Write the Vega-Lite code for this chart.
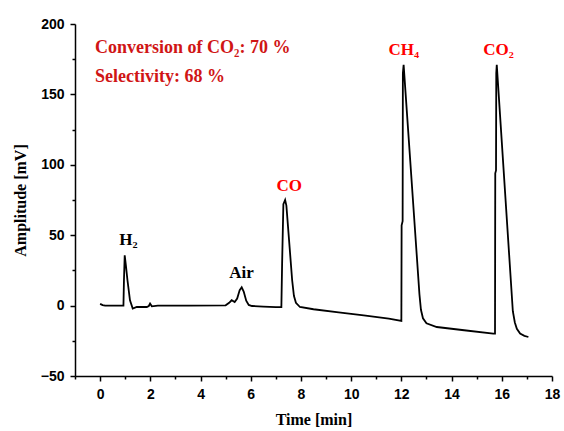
{
  "$schema": "https://vega.github.io/schema/vega-lite/v6.json",
  "width": 477,
  "height": 352,
  "autosize": "none",
  "padding": {"left": 75, "top": 24, "right": 12, "bottom": 55},
  "background": "white",
  "config": {
    "view": {"stroke": null},
    "axis": {
      "grid": false,
      "domainColor": "black",
      "domainWidth": 1.5,
      "tickColor": "black",
      "tickWidth": 1.5,
      "labelColor": "black",
      "labelFont": "Liberation Sans",
      "labelFontWeight": "bold",
      "labelFontSize": 14,
      "titleColor": "black",
      "titleFont": "Liberation Serif",
      "titleFontWeight": "bold",
      "titleFontSize": 16
    }
  },
  "datasets": {
    "trace": [
      {"t": 0.0, "v": 1.2}, {"t": 0.1, "v": 0.3}, {"t": 0.2, "v": 0}, {"t": 0.93, "v": 0},
      {"t": 0.95, "v": 18}, {"t": 0.98, "v": 35.7}, {"t": 1.03, "v": 28}, {"t": 1.09, "v": 18},
      {"t": 1.19, "v": 3.8}, {"t": 1.3, "v": -2.1}, {"t": 1.46, "v": -1}, {"t": 1.86, "v": -1},
      {"t": 1.94, "v": -0.3}, {"t": 1.99, "v": 1.4}, {"t": 2.06, "v": -0.5}, {"t": 2.3, "v": 0},
      {"t": 3.5, "v": 0}, {"t": 5.0, "v": 0.2}, {"t": 5.14, "v": 2}, {"t": 5.24, "v": 3.8},
      {"t": 5.36, "v": 2.5}, {"t": 5.46, "v": 5}, {"t": 5.56, "v": 11}, {"t": 5.64, "v": 13},
      {"t": 5.72, "v": 10}, {"t": 5.82, "v": 3.5}, {"t": 5.92, "v": 0.5}, {"t": 6.05, "v": -0.3},
      {"t": 6.5, "v": -0.7}, {"t": 7.0, "v": -1.1}, {"t": 7.22, "v": -1}, {"t": 7.25, "v": 30},
      {"t": 7.3, "v": 72}, {"t": 7.37, "v": 75}, {"t": 7.42, "v": 71}, {"t": 7.65, "v": 18},
      {"t": 7.72, "v": 7}, {"t": 7.8, "v": 2}, {"t": 7.96, "v": -1}, {"t": 8.5, "v": -2.6},
      {"t": 9.5, "v": -4.8}, {"t": 10.5, "v": -7}, {"t": 11.5, "v": -9.2}, {"t": 12.0, "v": -10.8},
      {"t": 12.01, "v": 57}, {"t": 12.05, "v": 60}, {"t": 12.06, "v": 165}, {"t": 12.09, "v": 171},
      {"t": 12.72, "v": 8}, {"t": 12.78, "v": -3}, {"t": 12.86, "v": -9},
      {"t": 13.0, "v": -12.6}, {"t": 13.41, "v": -15.2}, {"t": 14.5, "v": -17.5},
      {"t": 15.66, "v": -19.9}, {"t": 15.73, "v": -19.9}, {"t": 15.74, "v": 94}, {"t": 15.77, "v": 96},
      {"t": 15.78, "v": 165}, {"t": 15.8, "v": 171},
      {"t": 16.44, "v": -4}, {"t": 16.52, "v": -12}, {"t": 16.6, "v": -16.5}, {"t": 16.73, "v": -19.9}, {"t": 16.9, "v": -21.5},
      {"t": 17.06, "v": -22.3}
    ],
    "peaks": [
      {"label": "H₂", "t": 1.13, "v": 42.8, "kind": "other"},
      {"label": "Air", "t": 5.63, "v": 19.9, "kind": "other"},
      {"label": "CO", "t": 7.53, "v": 81.2, "kind": "product"},
      {"label": "CH₄", "t": 12.1, "v": 177.9, "kind": "product"},
      {"label": "CO₂", "t": 15.87, "v": 177.9, "kind": "product"}
    ],
    "notes": [
      {"label": "Conversion of CO₂: 70 %", "t": -0.2, "v": 179.2, "kind": "result"},
      {"label": "Selectivity: 68 %", "t": -0.2, "v": 158.6, "kind": "result"}
    ]
  },
  "layer": [
    {
      "data": {"name": "trace"},
      "mark": {"type": "line", "color": "black", "strokeWidth": 1.8, "interpolate": "linear"},
      "encoding": {
        "x": {
          "field": "t", "type": "quantitative",
          "scale": {"domain": [-1, 18], "nice": false, "zero": false},
          "axis": {
            "values": [0, 2, 4, 6, 8, 10, 12, 14, 16, 18],
            "tickSize": 5, "labelPadding": 6, "labelFlush": false,
            "title": "Time [min]", "titlePadding": 10
          }
        },
        "y": {
          "field": "v", "type": "quantitative",
          "scale": {"domain": [-50, 200], "nice": false, "zero": false},
          "axis": {
            "values": [-50, 0, 50, 100, 150, 200],
            "tickSize": 5, "labelPadding": 6, "labelFlush": false,
            "title": "Amplitude [mV]", "titlePadding": 12
          }
        }
      }
    },
    {
      "data": {"name": "peaks"},
      "mark": {"type": "text", "font": "Liberation Serif", "fontWeight": "bold", "fontSize": 17, "align": "center", "baseline": "alphabetic"},
      "encoding": {
        "x": {
          "field": "t", "type": "quantitative",
          "axis": {
            "orient": "bottom", "values": [-1, 1, 3, 5, 7, 9, 11, 13, 15, 17],
            "tickSize": 3, "labels": false, "domain": false, "title": null
          }
        },
        "y": {
          "field": "v", "type": "quantitative",
          "axis": {
            "orient": "left", "values": [-25, 25, 75, 125, 175],
            "tickSize": 3, "labels": false, "domain": false, "title": null
          }
        },
        "text": {"field": "label"},
        "color": {
          "field": "kind", "type": "nominal",
          "scale": {"domain": ["other", "product", "result"], "range": ["#000000", "#ff0000", "#d01515"]},
          "legend": null
        }
      }
    },
    {
      "data": {"name": "notes"},
      "mark": {"type": "text", "font": "Liberation Serif", "fontWeight": "bold", "fontSize": 18, "align": "left", "baseline": "alphabetic"},
      "encoding": {
        "x": {"field": "t", "type": "quantitative", "axis": null},
        "y": {"field": "v", "type": "quantitative", "axis": null},
        "text": {"field": "label"},
        "color": {
          "field": "kind", "type": "nominal",
          "scale": {"domain": ["other", "product", "result"], "range": ["#000000", "#ff0000", "#d01515"]},
          "legend": null
        }
      }
    }
  ],
  "resolve": {"axis": {"x": "independent", "y": "independent"}}
}
